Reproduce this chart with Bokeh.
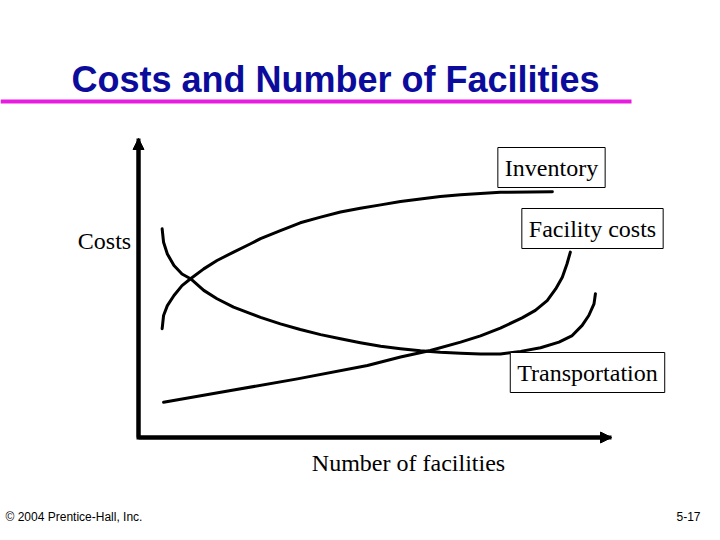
from bokeh.plotting import figure
from bokeh.models import Label, Arrow, NormalHead, BoxAnnotation, Range1d
from bokeh.embed import file_html
from bokeh.resources import INLINE

# ---- data (abstract units) ----
inv_x = [0.50, 0.53, 0.61, 0.75, 0.92, 1.10, 1.38, 1.66, 2.01, 2.37, 2.58,
         3.00, 3.42, 3.85, 4.27, 4.69, 5.12, 5.54, 5.96, 6.38, 6.81, 7.23,
         7.65, 8.75]
inv_y = [3.64, 4.08, 4.41, 4.75, 5.08, 5.31, 5.64, 5.92, 6.20, 6.48, 6.65,
         6.92, 7.18, 7.37, 7.54, 7.67, 7.78, 7.89, 7.98, 8.06, 8.12, 8.16,
         8.20, 8.22]

trans_x = [0.50, 0.53, 0.61, 0.75, 0.92, 1.10, 1.38, 1.66, 2.01, 2.37, 2.58,
           3.00, 3.42, 3.85, 4.27, 4.69, 5.12, 5.54, 5.96, 6.38, 6.81, 7.23,
           7.65, 8.08, 8.50, 8.89, 9.17, 9.38, 9.52, 9.63, 9.66]
trans_y = [6.98, 6.53, 6.14, 5.75, 5.47, 5.31, 4.92, 4.64, 4.36, 4.14, 4.02,
           3.80, 3.61, 3.44, 3.30, 3.17, 3.05, 2.97, 2.90, 2.85, 2.82, 2.79,
           2.79, 2.88, 3.00, 3.19, 3.41, 3.75, 4.08, 4.47, 4.81]

fac_x = [0.53, 1.95, 3.36, 4.84, 5.54, 6.17, 6.81, 7.23, 7.65, 8.11, 8.39,
         8.64, 8.82, 8.96, 9.06, 9.13]
fac_y = [1.18, 1.57, 1.96, 2.41, 2.69, 2.91, 3.19, 3.40, 3.66, 4.00, 4.25,
         4.58, 4.97, 5.36, 5.81, 6.20]

axis_max_x = 10.0
axis_max_y = 10.0

title = "Costs and Number of Facilities"
series_labels = ["Inventory", "Facility costs", "Transportation"]
x_label = "Number of facilities"
y_label = "Costs"
footer_left = "\u00a9 2004 Prentice-Hall, Inc."
footer_right = "5-17"

W, H = 704, 524
p = figure(width=W, height=H, output_backend="svg", toolbar_location=None,
           x_axis_type=None, y_axis_type=None, min_border=0,
           x_range=Range1d(-138 / 47.3, (W - 138) / 47.3),
           y_range=Range1d((437 - H) / 29.9, 437 / 29.9))
p.outline_line_color = None
p.background_fill_color = "white"
p.border_fill_color = "white"

def sx(px):
    return px

def sy(py):
    return H - py

# axes (L shape with arrow heads)
p.line([0, 0, axis_max_x], [axis_max_y, 0, 0], line_width=4, line_color="black",
       line_join="miter")
for xe, ye in [(0, axis_max_y), (axis_max_x, 0)]:
    p.add_layout(Arrow(end=NormalHead(size=11, fill_color="black", line_color="black"),
                       x_start=0, y_start=0, x_end=xe, y_end=ye,
                       line_width=4, line_color="black"))

# curves
for xs, ys in [(inv_x, inv_y), (trans_x, trans_y), (fac_x, fac_y)]:
    p.line(xs, ys, line_width=3, line_color="black", line_join="round", line_cap="round")

serif = "Liberation Serif"
sans = "Liberation Sans"

# boxed series labels
for txt, cx, cy in [(series_labels[0], 551, 167), (series_labels[1], 592, 228),
                    (series_labels[2], 587, 372)]:
    p.add_layout(Label(x=sx(cx), y=sy(cy), x_units="screen", y_units="screen",
                       text=txt, text_font=serif, text_font_size="24px",
                       text_align="center", text_baseline="middle", text_color="black",
                       border_line_color="black", border_line_width=1,
                       background_fill_color="white", padding=7))

# axis titles
p.add_layout(Label(x=sx(104), y=sy(240), x_units="screen", y_units="screen",
                   text=y_label, text_font=serif, text_font_size="24px",
                   text_align="center", text_baseline="middle", text_color="black"))
p.add_layout(Label(x=sx(408), y=sy(462), x_units="screen", y_units="screen",
                   text=x_label, text_font=serif, text_font_size="24px",
                   text_align="center", text_baseline="middle", text_color="black"))

# title and underline
p.add_layout(Label(x=sx(335), y=sy(79), x_units="screen", y_units="screen",
                   text=title, text_font=sans, text_font_size="36px",
                   text_font_style="bold", text_color="#0c0c9c",
                   text_align="center", text_baseline="middle"))
p.add_layout(BoxAnnotation(left=sx(0), right=sx(631), top=sy(99), bottom=sy(103),
                           left_units="screen", right_units="screen",
                           top_units="screen", bottom_units="screen",
                           fill_color="#e81ce0", fill_alpha=1.0, line_color=None))

# footer
p.add_layout(Label(x=sx(5), y=sy(516), x_units="screen", y_units="screen",
                   text=footer_left, text_font=sans, text_font_size="12px",
                   text_align="left", text_baseline="middle", text_color="black"))
p.add_layout(Label(x=sx(700), y=sy(516), x_units="screen", y_units="screen",
                   text=footer_right, text_font=sans, text_font_size="12px",
                   text_align="right", text_baseline="middle", text_color="black"))

open("out.html", "w").write(file_html(p, INLINE))
